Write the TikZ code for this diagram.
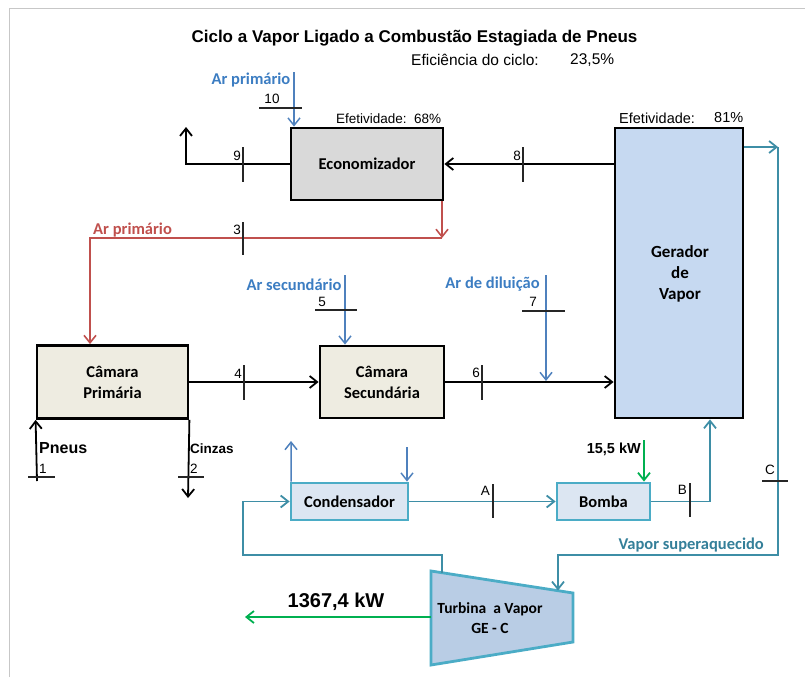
\documentclass[tikz,border=0pt]{standalone}
\usepackage{fontspec}
\setmainfont{Liberation Sans}
\newfontfamily\carl{Carlito}
\usetikzlibrary{arrows.meta}
\definecolor{airblue}{HTML}{4F81BD}
\definecolor{airtxt}{HTML}{3C7DC2}
\definecolor{redl}{HTML}{C0504D}
\definecolor{steam}{HTML}{3E8EA6}
\definecolor{steamtxt}{HTML}{347F99}
\definecolor{cyanbd}{HTML}{4BACC6}
\definecolor{grn}{HTML}{00B050}
\definecolor{econfill}{HTML}{D9D9D9}
\definecolor{chfill}{HTML}{EEECE1}
\definecolor{genfill}{HTML}{C6D9F1}
\definecolor{cfill}{HTML}{DCE6F2}
\definecolor{tfill}{HTML}{B9CDE5}
\tikzset{
  arr/.style={-{Straight Barb[length=7.5pt,width=12pt]}},
  blk/.style={draw=black,line width=1.8pt,arr},
  air/.style={draw=airblue,line width=1.5pt,arr},
  redline/.style={draw=redl,line width=1.6pt},
  steamline/.style={draw=steam,line width=1.8pt},
  grnline/.style={draw=grn,line width=1.8pt,arr},
  tick/.style={draw=black!85,line width=1.1pt},
  box/.style={draw=black,line width=2.8pt,inner sep=0pt,align=center,
    font=\carl\bfseries\fontsize{16.5}{21}\selectfont},
  cbox/.style={draw=cyanbd,fill=cfill,line width=2.8pt,inner sep=0pt,align=center,
    font=\carl\bfseries\fontsize{16.5}{21}\selectfont},
  lab/.style={inner sep=0pt,font=\carl\bfseries\fontsize{16.5}{21}\selectfont},
  num/.style={inner sep=0pt,font=\fontsize{13.5}{16}\selectfont},
}
\begin{document}
\begin{tikzpicture}[x=1pt,y=-1pt]
\useasboundingbox (0,0) rectangle (805,677);
\draw[black!22,line width=1pt] (9,677) -- (9,9) -- (805,9);

% titles
\node[inner sep=0pt,font=\bfseries\fontsize{17}{20}\selectfont] (title) at (414.5,38) {Ciclo a Vapor Ligado a Combustão Estagiada de Pneus};
\node[inner sep=0pt,anchor=west,font=\fontsize{15.5}{18}\selectfont] (efic) at (411,60) {Eficiência do ciclo:};
\node[inner sep=0pt,anchor=west,font=\fontsize{15.5}{18}\selectfont] (eficv) at (570,60) {23,5\%};

% boxes
\node[box,fill=econfill,minimum width=152pt,minimum height=72pt] (econ) at (367,164) {Economizador};
\node[box,fill=genfill,minimum width=128pt,minimum height=290pt] (gen) at (679,273) {};
\node[lab,align=center,font=\carl\bfseries\fontsize{17}{21}\selectfont] (gentxt) at (680,274) {Gerador\\de\\Vapor};
\node[box,fill=chfill,minimum width=151pt,minimum height=73pt] (prim) at (112.5,382) {Câmara\\Primária};
\node[box,fill=chfill,minimum width=124pt,minimum height=72pt] (sec) at (382,382) {Câmara\\Secundária};
\node[cbox,minimum width=117pt,minimum height=37pt] (cond) at (349.5,501.5) {Condensador};
\node[cbox,minimum width=93pt,minimum height=37pt] (bomba) at (603.5,501.5) {Bomba};

% turbine
\coordinate (ttl) at (431,571);
\coordinate (ttr) at (573,593);
\coordinate (tbr) at (573,642);
\coordinate (tbl) at (431,665);
\draw[draw=cyanbd,fill=tfill,line width=2.8pt,line join=miter] (ttl) -- (ttr) -- (tbr) -- (tbl) -- cycle;
\node[lab,align=center,font=\carl\bfseries\fontsize{15.5}{20}\selectfont] (turbtxt) at (490,618) {Turbina\ \ a Vapor\\GE - C};

% efetividade labels
\node[num,anchor=west] (ef68) at (336,119) {Efetividade:\ \ 68\%};
\node[num,anchor=west,font=\fontsize{14.5}{17}\selectfont] (ef81a) at (619,118) {Efetividade:};
\node[num,anchor=west,font=\fontsize{14.5}{17}\selectfont] (ef81b) at (714,118) {81\%};

% stream 10 : primary air to economizer
\coordinate (a10) at (294,72);
\node[lab,text=airtxt] (ar10) at (251,80) {Ar primário};
\draw[air] (a10) -- (a10 |- econ.north);
\draw[tick] (259,108) -- (302,108);
\node[num] (n10) at (272,99) {10};

% stream 9 : exhaust
\coordinate (out9c) at (186,164);
\coordinate (out9) at (186,127);
\draw[blk] (econ.west) -- (out9c) -- (out9);
\draw[tick] (243,147) -- (243,182);
\node[num,anchor=east] (n9) at (241,156) {9};

% stream 8 : generator to economizer
\draw[blk] (gen.west |- econ.east) -- (econ.east);
\draw[tick] (523,147) -- (523,182);
\node[num,anchor=east] (n8) at (521,156) {8};

% stream 3 : hot primary air
\coordinate (r1) at (442,238);
\coordinate (r2) at (90,238);
\draw[redline,arr] (econ.south -| r1) -- (r1);
\draw[redline,arr] (r1) -- (r2) -- (prim.north -| r2);
\node[lab,text=redl,anchor=west] (ar3) at (93,230) {Ar primário};
\draw[tick] (243,222) -- (243,255);
\node[num,anchor=east] (n3) at (241,230) {3};

% stream 1 : tyres
\coordinate (p1) at (37,481);
\draw[blk] (p1) -- (prim.south west);
\draw[tick] (28,477) -- (55,477);
\node[num] (n1) at (43,469) {1};
\node[inner sep=0pt,anchor=west,font=\bfseries\fontsize{16}{19}\selectfont] (pneus) at (39,448) {Pneus};

% stream 2 : ashes
\coordinate (p2) at (188,498);
\draw[blk] (prim.south east) -- (p2);
\draw[tick] (178,477) -- (204,477);
\node[num] (n2) at (194,469) {2};
\node[inner sep=0pt,anchor=west,font=\bfseries\fontsize{13.5}{16}\selectfont] (cinzas) at (190,449) {Cinzas};

% stream 4
\draw[blk] (prim.east) -- (sec.west);
\draw[tick] (244,365) -- (244,400);
\node[num,anchor=east] (n4) at (242,374) {4};

% stream 5 : secondary air
\coordinate (a5) at (345,275);
\node[lab,text=airtxt] (ar5) at (294,285) {Ar secundário};
\draw[air] (a5) -- (a5 |- sec.north);
\draw[tick] (315,310) -- (357,310);
\node[num] (n5) at (322,302) {5};

% stream 6
\draw[blk] (sec.east) -- (sec.east -| gen.west);
\draw[tick] (482,365) -- (482,400);
\node[num,anchor=east] (n6) at (480,373) {6};

% stream 7 : dilution air
\coordinate (a7) at (546,275);
\coordinate (a7e) at (546,381);
\node[lab,text=airtxt] (ar7) at (492.5,284) {Ar de diluição};
\draw[air] (a7) -- (a7e);
\draw[tick] (522,311) -- (565,311);
\node[num] (n7) at (533,302) {7};

% steam C
\coordinate (c1) at (778,147);
\coordinate (c2) at (778,555);
\coordinate (c3) at (558,555);
\coordinate (c4) at (558,590.5);
\draw[steamline,arr] (gen.east |- c1) -- (c1);
\draw[steamline,arr] (c1) -- (c2) -- (c3) -- (c4);
\draw[tick] (762,481) -- (788,481);
\node[num] (nC) at (770,470) {C};
\node[lab,text=steamtxt,anchor=east] (vsup) at (764,545) {Vapor superaquecido};

% turbine exhaust to condenser
\coordinate (e1) at (442,572.7);
\coordinate (e2) at (442,555);
\coordinate (e3) at (243,555);
\coordinate (e4) at (243,501.5);
\draw[steamline,arr] (e1) -- (e2) -- (e3) -- (e4) -- (cond.west);

% cooling water
\coordinate (w1) at (291,441);
\coordinate (w2) at (407,447);
\draw[air] ([xshift=1.5pt]cond.north west) -- (w1);
\draw[air] (w2) -- (w2 |- cond.north);

% stream A
\draw[steamline,arr] (cond.east) -- (bomba.west);
\draw[tick] (493,484) -- (493,518);
\node[num,anchor=east] (nA) at (490,491) {A};

% pump work
\coordinate (g1) at (644,440);
\draw[grnline] (g1) -- (g1 |- bomba.north);
\node[inner sep=0pt,anchor=east,font=\bfseries\fontsize{14.5}{17}\selectfont] (pw) at (641,449) {15,5 kW};

% stream B
\coordinate (b1) at (710,501.5);
\draw[steamline,arr] (bomba.east) -- (b1) -- (b1 |- gen.south);
\draw[tick] (690,483) -- (690,517);
\node[num,anchor=east] (nB) at (687,490) {B};

% turbine output
\coordinate (o1) at (431,617);
\coordinate (o2) at (245,617);
\draw[grnline] (o1) -- (o2);
\node[inner sep=0pt,font=\bfseries\fontsize{20}{23}\selectfont] (pout) at (336,602) {1367,4 kW};
\end{tikzpicture}
\end{document}
